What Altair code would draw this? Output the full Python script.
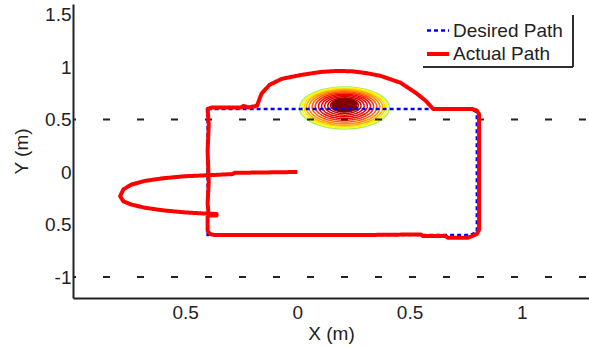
import altair as alt
import numpy as np
import pandas as pd

FONT = "Liberation Sans"
TEXT = "#222222"

SERIES = ["Desired Path", "Actual Path"]
SERIES_COLORS = ["#0000ff", "#ff0000"]

DESIRED_X = [-0.4, -0.4, 0.77, 0.8, 0.8, 0.77, -0.4, -0.4]
DESIRED_Y = [0.0, 0.6, 0.6, 0.57, -0.57, -0.6, -0.6, 0.0]

ACTUAL_X = [0.0, -0.28, -0.29, -0.39, -0.50, -0.60, -0.68, -0.74, -0.775, -0.79,
            -0.775, -0.74, -0.68, -0.60, -0.50, -0.42, -0.36, -0.36, -0.395, -0.40,
            -0.395, -0.40, -0.395, -0.40, -0.38, -0.25, -0.24, -0.22, -0.18, -0.16,
            -0.124, -0.07, 0.018, 0.106, 0.173, 0.24, 0.305, 0.372, 0.46, 0.527,
            0.571, 0.606, 0.70, 0.78, 0.80, 0.81, 0.81, 0.80, 0.78, 0.76,
            0.67, 0.66, 0.56, 0.55, 0.52, 0.30, -0.37, -0.39, -0.40, -0.40]
ACTUAL_Y = [0.0, -0.008, -0.02, -0.03, -0.04, -0.06, -0.085, -0.12, -0.165, -0.23,
            -0.28, -0.31, -0.34, -0.365, -0.385, -0.395, -0.40, -0.415, -0.415, -0.30,
            -0.10, 0.20, 0.45, 0.60, 0.615, 0.615, 0.63, 0.615, 0.63, 0.745,
            0.83, 0.887, 0.925, 0.953, 0.962, 0.96, 0.943, 0.915, 0.85, 0.755,
            0.68, 0.60, 0.60, 0.60, 0.585, 0.55, -0.55, -0.59, -0.61, -0.625,
            -0.625, -0.61, -0.61, -0.595, -0.595, -0.60, -0.60, -0.59, -0.56, -0.42]

# contour rings (relative size of each level) and colours; outer rings thin, core thick
CONTOUR_CENTER = (0.21, 0.61)
CONTOUR_INNER_CENTER = (0.21, 0.645)
CONTOUR_RADII = (0.20, 0.20)
RING_LEVELS = [1.0, 0.95, 0.90, 0.85, 0.79, 0.72, 0.65, 0.58, 0.51, 0.44, 0.37, 0.31]
RING_COLORS = ["#a8f060", "#ffff00", "#ffe000", "#ffb000", "#ff8c00", "#ff6000", "#ff3000",
               "#ff0000", "#ee0000", "#dd0000", "#c00000", "#a00000"]
CORE_LEVELS = [0.26, 0.21, 0.16, 0.11, 0.06]
CORE_COLORS = ["#800000", "#800000", "#800000", "#800000", "#800000"]

REF_Y = [0.5, -1.0]

X_TICKS = [-0.5, 0, 0.5, 1]
X_TICK_LABELS = ["0.5", "0", "0.5", "1"]
Y_TICKS = [-1, -0.5, 0, 0.5, 1, 1.5]
Y_TICK_LABELS = ["-1", "0.5", "0", "0.5", "1", "1.5"]


def label_expr(vals, labels):
    expr = "''"
    for v, l in reversed(list(zip(vals, labels))):
        expr = f"abs(datum.value - ({v})) < 1e-6 ? '{l}' : ({expr})"
    return expr


def rings(levels, colors):
    rows = []
    t = np.linspace(0, 2 * np.pi, 73)
    for i, (lev, col) in enumerate(zip(levels, colors)):
        f = 1 - lev
        cx = CONTOUR_CENTER[0] + f * (CONTOUR_INNER_CENTER[0] - CONTOUR_CENTER[0])
        cy = CONTOUR_CENTER[1] + f * (CONTOUR_INNER_CENTER[1] - CONTOUR_CENTER[1])
        for j, a in enumerate(t):
            rows.append({"x": cx + lev * CONTOUR_RADII[0] * np.cos(a),
                         "y": cy + lev * CONTOUR_RADII[1] * np.sin(a),
                         "level": i, "c": col, "o": j})
    return pd.DataFrame(rows)


desired = pd.DataFrame({"x": DESIRED_X, "y": DESIRED_Y, "series": SERIES[0],
                        "o": range(len(DESIRED_X))})
actual = pd.DataFrame({"x": ACTUAL_X, "y": ACTUAL_Y, "series": SERIES[1],
                       "o": range(len(ACTUAL_X))})
refs = pd.DataFrame({"y": REF_Y})

x_enc = alt.X("x:Q", scale=alt.Scale(domain=[-1, 1.3], nice=False, zero=False),
              axis=alt.Axis(values=X_TICKS, labelExpr=label_expr(X_TICKS, X_TICK_LABELS),
                            title="X (m)", labelPadding=5, titlePadding=2))
y_enc = alt.Y("y:Q", scale=alt.Scale(domain=[-1.2, 1.6], nice=False, zero=False),
              axis=alt.Axis(values=Y_TICKS, labelExpr=label_expr(Y_TICKS, Y_TICK_LABELS),
                            title="Y (m)", labelPadding=2, titlePadding=13))

legend = alt.Legend(title=None, orient="none", legendX=352, legendY=14,
                    symbolType="stroke", symbolSize=484, labelFont=FONT,
                    labelFontSize=19, labelColor=TEXT, rowPadding=0, labelOffset=2,
                    padding=0)
color = alt.Color("series:N", scale=alt.Scale(domain=SERIES, range=SERIES_COLORS), legend=legend)
dash = alt.StrokeDash("series:N", scale=alt.Scale(domain=SERIES, range=[[4, 3], [1, 0]]), legend=legend)
width = alt.StrokeWidth("series:N", scale=alt.Scale(type="ordinal", domain=SERIES, range=[2.5, 4]),
                        legend=legend)

ring_layer = alt.Chart(rings(RING_LEVELS, RING_COLORS)).mark_line(strokeWidth=1.5).encode(
    x=x_enc, y=y_enc, detail="level:N", order="o:Q",
    stroke=alt.Stroke("c:N", scale=None, legend=None))
core_layer = alt.Chart(rings(CORE_LEVELS, CORE_COLORS)).mark_line(strokeWidth=3).encode(
    x=x_enc, y=y_enc, detail="level:N", order="o:Q",
    stroke=alt.Stroke("c:N", scale=None, legend=None))

ref_layer = alt.Chart(refs).mark_rule(color="#222222", strokeWidth=2,
                                      strokeDash=[7, 27], strokeDashOffset=-3).encode(y=y_enc)

desired_layer = alt.Chart(desired).mark_line().encode(
    x=x_enc, y=y_enc, order="o:Q", color=color, strokeDash=dash, strokeWidth=width)
actual_layer = alt.Chart(actual).mark_line(strokeJoin="round").encode(
    x=x_enc, y=y_enc, order="o:Q", color=color, strokeDash=dash, strokeWidth=width)

frame_right = alt.Chart(refs).mark_rule(color=TEXT, strokeWidth=1.5).encode(
    x=alt.value(500), y=alt.value(11), y2=alt.value(63))
frame_bottom = alt.Chart(refs).mark_rule(color=TEXT, strokeWidth=1.5).encode(
    x=alt.value(350), x2=alt.value(500), y=alt.value(63))

chart = alt.layer(ring_layer, core_layer, ref_layer, desired_layer, actual_layer,
                  frame_right, frame_bottom).properties(
    width=516, height=294,
    padding={"left": 73, "top": 4, "right": 0, "bottom": 51},
    autosize=alt.AutoSizeParams(type="none"),
    background="white",
).configure_view(stroke=None).configure_axis(
    grid=False, ticks=False, domainColor=TEXT, domainWidth=2,
    labelFont=FONT, labelFontSize=19, labelColor=TEXT,
    titleFont=FONT, titleFontSize=19, titleColor=TEXT, titleFontWeight="normal",
)

chart.save("out.html", embed_options={"renderer": "svg", "actions": False})
